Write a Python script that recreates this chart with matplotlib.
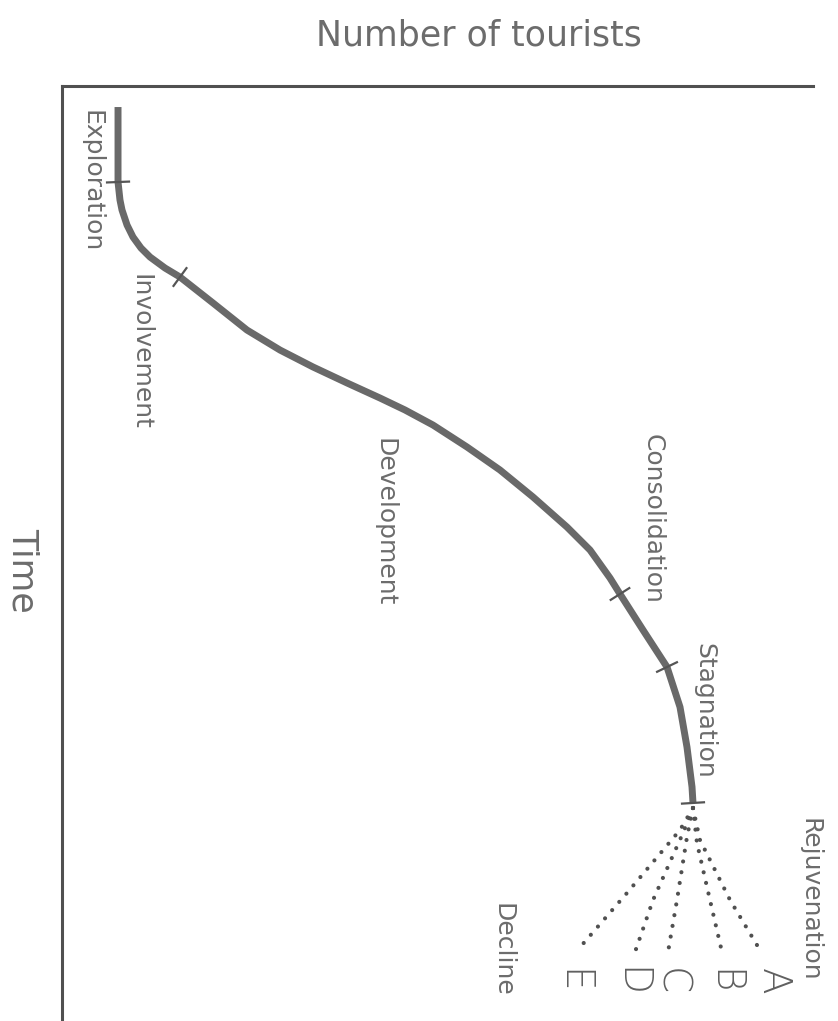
import matplotlib
matplotlib.use('Agg')
import matplotlib.pyplot as plt
import numpy as np

# main life-cycle curve (tourists, time), time runs downward
tourists = [7.46, 7.46, 7.46, 7.72, 7.99, 8.66, 9.45, 10.52, 11.72, 13.72, 15.71,
            20.11, 24.63, 29.03, 33.42, 37.95, 42.34, 45.67, 49.40, 53.93, 58.32,
            62.72, 67.24, 70.31, 72.97, 74.30, 77.36, 80.56, 82.29, 83.22, 83.89,
            84.02]
time = [2.25, 6.84, 10.27, 12.19, 13.26, 14.87, 16.15, 17.33, 18.29, 19.47, 20.43,
        23.21, 26.10, 28.24, 30.05, 31.76, 33.37, 34.65, 36.26, 38.61, 41.07,
        43.96, 47.17, 49.63, 52.62, 54.33, 58.18, 62.14, 66.42, 70.70, 74.97,
        76.68]
# stage boundaries (indices into the curve)
stage_ends = [2, 10, 25, 27, 31]

stages = ['Exploration', 'Involvement', 'Development', 'Consolidation',
          'Stagnation', 'Rejuvenation', 'Decline']
stage_x = [3.9, 10.4, 43.0, 78.7, 85.6, 99.6, 58.7]
stage_y = [10.2, 28.4, 46.6, 46.3, 66.8, 87.0, 92.4]

# possible futures after stagnation
branch_names = ['A', 'B', 'C', 'D', 'E']
branch_tourists = [[84.02, 84.95, 88.95, 92.94],
                   [84.02, 84.55, 86.28, 87.88],
                   [84.02, 83.22, 81.89, 80.56],
                   [84.02, 82.69, 78.70, 76.30],
                   [84.02, 82.29, 75.23, 69.24]]
branch_time = [[77.22, 80.64, 87.06, 92.41],
               [77.22, 80.96, 87.06, 92.62],
               [77.22, 80.32, 87.06, 93.26],
               [77.22, 79.89, 87.06, 92.62],
               [77.22, 79.57, 86.31, 91.87]]
branch_label_x = [94.7, 88.0, 81.0, 75.6, 67.9]
branch_label_y = 95.8

line_col = '#696969'
text_col = '#6c6c6c'

fig = plt.figure(figsize=(8.38, 10.21), dpi=100)
ax = fig.add_axes([62/838, 0.0, (813-62)/838, 1-86/1021])
ax.set_xlim(0, 100)
ax.set_ylim(100, 0)
ax.set_xticks([]); ax.set_yticks([])
for s in ['right', 'bottom']:
    ax.spines[s].set_visible(False)
for s in ['top', 'left']:
    ax.spines[s].set_linewidth(2.2)
    ax.spines[s].set_color('#505050')

ax.plot(tourists, time, color=line_col, lw=5, solid_capstyle='butt',
        solid_joinstyle='round')

# small cross ticks at stage ends, perpendicular in pixel space
sx = (813-62)/100.0
sy = (1021-86)/100.0
half = 11.0
for i in stage_ends:
    j0 = max(i-1, 0); j1 = min(i+1, len(tourists)-1)
    dx = (tourists[j1]-tourists[j0])*sx
    dy = (time[j1]-time[j0])*sy
    n = np.hypot(dx, dy)
    px, py = -dy/n, dx/n
    ax.plot([tourists[i]-px*half/sx, tourists[i]+px*half/sx],
            [time[i]-py*half/sy, time[i]+py*half/sy], color='#555555', lw=1.6)

for bx, by in zip(branch_tourists, branch_time):
    ax.plot(bx, by, color='#505050', lw=3, linestyle=(0, (0.01, 2.6)),
            dash_capstyle='round')

for name, x, y in zip(stages, stage_x, stage_y):
    ax.text(x, y, name, rotation=-90, ha='center', va='center',
            fontsize=18, color=text_col)

for name, x in zip(branch_names, branch_label_x):
    ax.text(x, branch_label_y, name, rotation=-90, ha='center', va='center',
            fontsize=28, color='#606060', fontweight='light')

fig.text(479/838, 1-45/1021, 'Number of tourists', ha='center', va='baseline',
         fontsize=25, color=text_col)
fig.text(23/838, 1-570/1021, 'Time', rotation=-90, ha='center', va='center',
         fontsize=25, color=text_col)

fig.savefig('out.png', dpi=100, facecolor='white')
